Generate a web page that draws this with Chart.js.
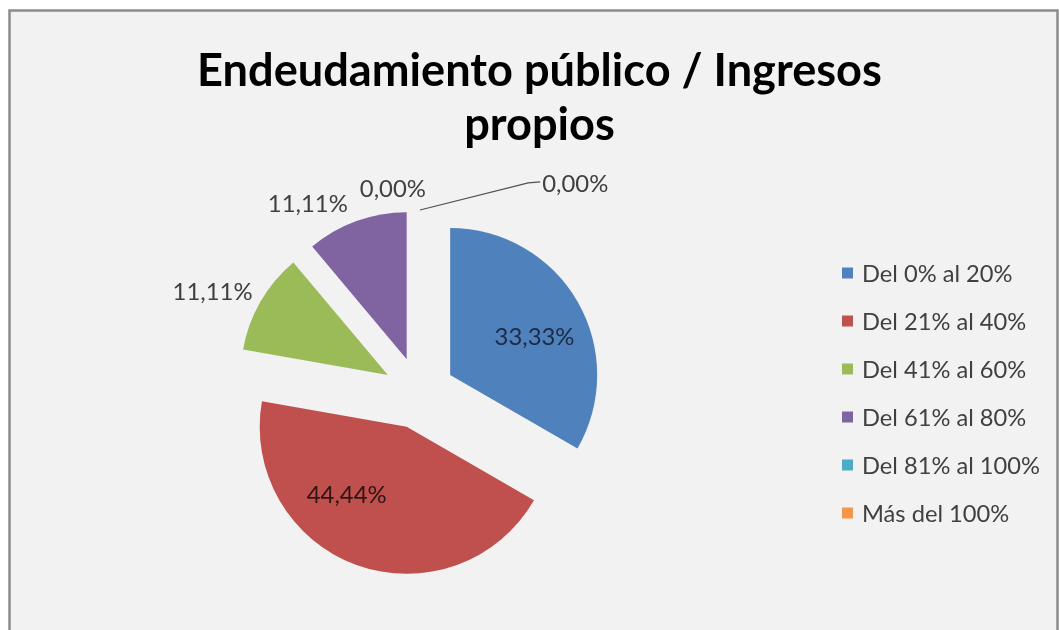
<!DOCTYPE html>
<html>
<head>
<meta charset="utf-8">
<script src="https://cdn.jsdelivr.net/npm/chart.js@4.4.0/dist/chart.umd.min.js"></script>
<style>
  html, body { margin: 0; padding: 0; background: #ffffff; }
  #wrap { width: 1059px; height: 630px; position: relative; }
  canvas { display: block; }
</style>
</head>
<body>
<div id="wrap"><canvas id="c" width="1059" height="630"></canvas></div>
<script>
// ---------- data ----------
const titleLines = ['Endeudamiento público / Ingresos', 'propios'];
const categories = ['Del 0% al 20%', 'Del 21% al 40%', 'Del 41% al 60%', 'Del 61% al 80%', 'Del 81% al 100%', 'Más del 100%'];
const percentages = [33.33, 44.44, 11.11, 11.11, 0, 0];
const sliceColors = ['#4F81BD', '#C0504D', '#9BBB59', '#8064A2', '#4BACC6', '#F79646'];

// ---------- layout / style (not data) ----------
const FONT = 'Lato, "Open Sans", sans-serif';
const PIE_RADIUS = 147;
const EXPLODE = 36;
// label placement relative to each exploded slice apex: angle (deg, clockwise from top), distance (px)
const labelPlacement = [
  { angle: 65.1,  dist: 93,  color: '#1d2b44', leader: false },
  { angle: 221.8, dist: 90,  color: '#2e1414', leader: false },
  { angle: 295.4, dist: 194, color: '#404040', leader: false },
  { angle: 327.7, dist: 185, color: '#404040', leader: false },
  { angle: 351.2, dist: 171, color: '#404040', leader: false },
  { angle: 41.9,  dist: 234, color: '#404040', leader: true }
];

const mctx = document.createElement('canvas').getContext('2d');
function fitSize(text, target, weight) {
  mctx.font = weight + ' 100px ' + FONT;
  return 100 * target / mctx.measureText(text).width;
}
const titleSize = fitSize(titleLines[0], 685, 'bold');
const legendSize = fitSize('Del 81% al 100%', 178, 'normal');
const labelSize = fitSize('33,33%', 80, 'normal');

function fmt(v) { return v.toFixed(2).replace('.', ',') + '%'; }

const panelPlugin = {
  id: 'panel',
  beforeDraw(chart) {
    const ctx = chart.ctx;
    ctx.save();
    ctx.fillStyle = '#ffffff';
    ctx.fillRect(0, 0, chart.width, chart.height);
    ctx.fillStyle = '#f2f2f2';
    ctx.fillRect(9, 10, 1049, 625);
    ctx.strokeStyle = '#8c8c8c';
    ctx.lineWidth = 2.5;
    ctx.strokeRect(9.5, 10.5, 1048, 640);
    ctx.restore();
  }
};

const explodePlugin = {
  id: 'explode',
  afterDatasetUpdate(chart, args) {
    args.meta.data.forEach(arc => {
      const mid = (arc.startAngle + arc.endAngle) / 2;
      arc.x += Math.cos(mid) * EXPLODE;
      arc.y += Math.sin(mid) * EXPLODE;
    });
  }
};

const overlayPlugin = {
  id: 'overlay',
  afterDatasetsDraw(chart) {
    const ctx = chart.ctx;
    ctx.save();
    // title
    ctx.fillStyle = '#000000';
    ctx.font = 'bold ' + titleSize + 'px ' + FONT;
    ctx.textAlign = 'center';
    ctx.textBaseline = 'alphabetic';
    ctx.fillText(titleLines[0], 539.5, 86);
    ctx.fillText(titleLines[1], 539.5, 140);

    // legend
    ctx.font = legendSize + 'px ' + FONT;
    ctx.textAlign = 'left';
    ctx.textBaseline = 'middle';
    categories.forEach((cat, i) => {
      const y = 273 + i * 48;
      ctx.fillStyle = sliceColors[i];
      ctx.fillRect(842, y - 5.5, 11, 11);
      ctx.fillStyle = '#404040';
      ctx.fillText(cat, 862, y + 1);
    });

    // data labels
    const meta = chart.getDatasetMeta(0);
    ctx.font = labelSize + 'px ' + FONT;
    ctx.textAlign = 'center';
    meta.data.forEach((arc, i) => {
      const p = labelPlacement[i];
      const a = p.angle * Math.PI / 180;
      const lx = arc.x + Math.sin(a) * p.dist;
      const ly = arc.y - Math.cos(a) * p.dist;
      const text = fmt(percentages[i]);
      if (p.leader) {
        const mid = (arc.startAngle + arc.endAngle) / 2;
        const sx = arc.x + Math.cos(mid) * arc.outerRadius;
        const sy = arc.y + Math.sin(mid) * arc.outerRadius;
        const w = ctx.measureText(text).width;
        const ex = lx - w / 2 - 2;
        ctx.strokeStyle = '#505050';
        ctx.lineWidth = 1.2;
        ctx.beginPath();
        ctx.moveTo(sx + 1, sy);
        ctx.lineTo(ex - 12, ly);
        ctx.lineTo(ex, ly - 1);
        ctx.stroke();
      }
      ctx.fillStyle = p.color;
      ctx.fillText(text, lx, ly + 1);
    });
    ctx.restore();
  }
};

new Chart(document.getElementById('c'), {
  type: 'pie',
  data: {
    labels: categories,
    datasets: [{
      data: percentages,
      backgroundColor: sliceColors,
      borderWidth: 0
    }]
  },
  options: {
    responsive: false,
    animation: false,
    events: [],
    radius: PIE_RADIUS,
    layout: { padding: { left: 119, right: 340, top: 193, bottom: 37 } },
    plugins: {
      legend: { display: false },
      title: { display: false },
      tooltip: { enabled: false }
    }
  },
  plugins: [panelPlugin, explodePlugin, overlayPlugin]
});
</script>
</body>
</html>
